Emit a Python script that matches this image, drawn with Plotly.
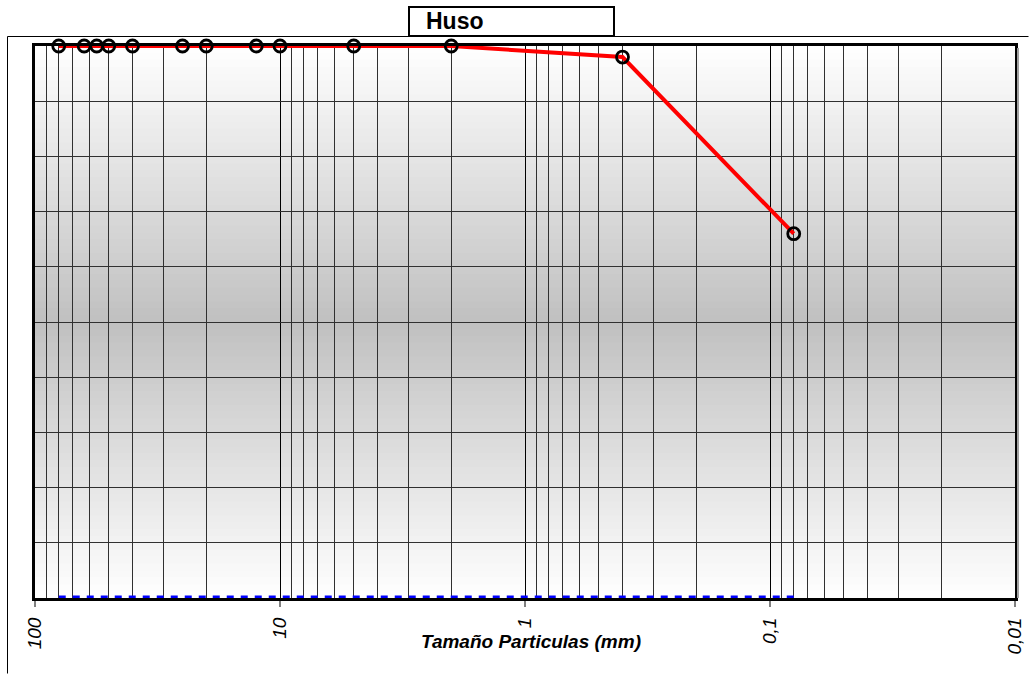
import plotly.graph_objects as go

# ---- data ----
sizes_mm = [80, 63, 56, 50, 40, 25, 20, 12.5, 10, 5, 2, 0.4, 0.08]
pct_passing = [100, 100, 100, 100, 100, 100, 100, 100, 100, 100, 100, 98, 66]
lower_band = [0, 0, 0, 0, 0, 0, 0, 0, 0, 0, 0, 0, 0]
tick_vals = [100, 10, 1, 0.1, 0.01]
tick_text = ["100", "10", "1", "0,1", "0,01"]
title_text = "Huso"
x_title = "Tamaño Particulas (mm)"

W, H = 1029, 674
L, R, T, B = 35, 14, 46, 76
pw, ph = W - L - R, H - T - B

def px_x(p):
    return (p - L) / pw

def px_y(p):
    return (H - B - p) / ph

minor_vals = []
for dec in [0.01, 0.1, 1, 10]:
    for k in range(2, 10):
        minor_vals.append(dec * k)

fig = go.Figure()

fig.add_trace(go.Scatter(
    x=sizes_mm, y=lower_band, mode="lines",
    line=dict(color="#0000ff", width=5, dash="7px,7px"),
    cliponaxis=False, showlegend=False, hoverinfo="skip"))

fig.add_trace(go.Scatter(
    x=sizes_mm, y=pct_passing, mode="lines+markers",
    line=dict(color="#ff0000", width=4),
    marker=dict(symbol="circle", size=12, color="rgba(0,0,0,0)",
                line=dict(color="#000000", width=2.8)),
    cliponaxis=False, showlegend=False))

shapes = []
# vertical gradient background
N = 80
for i in range(N):
    y0 = i / N
    y1 = (i + 1) / N
    t = abs((y0 + y1) / 2 - 0.5) * 2
    g = int(round(192 + (255 - 192) * t))
    shapes.append(dict(type="rect", xref="paper", yref="paper",
                       x0=0, x1=1, y0=y0, y1=y1 + 0.002,
                       fillcolor=f"rgb({g},{g},{g})", line=dict(width=0),
                       layer="below"))
# outer chart border (left and top edges visible within the image)
shapes.append(dict(type="line", xref="paper", yref="paper",
                   x0=px_x(7.5), x1=px_x(7.5), y0=px_y(673.5), y1=px_y(36.5),
                   line=dict(color="#000000", width=1), layer="below"))
shapes.append(dict(type="line", xref="paper", yref="paper",
                   x0=px_x(7.5), x1=px_x(1028.5), y0=px_y(36.5), y1=px_y(36.5),
                   line=dict(color="#000000", width=1), layer="below"))
# shadow on right of plot area
shapes.append(dict(type="line", xref="paper", yref="paper",
                   x0=px_x(1018), x1=px_x(1018), y0=0, y1=px_y(48),
                   line=dict(color="#a0a0a0", width=2)))
# title box
shapes.append(dict(type="rect", xref="paper", yref="paper",
                   x0=px_x(409), x1=px_x(614), y0=px_y(36), y1=px_y(7),
                   line=dict(color="#000000", width=2), fillcolor="#ffffff"))

fig.update_layout(
    width=W, height=H,
    margin=dict(l=L, r=R, t=T, b=B, autoexpand=False),
    paper_bgcolor="#ffffff", plot_bgcolor="#ffffff",
    shapes=shapes,
    font=dict(family="Arial, Liberation Sans, sans-serif", color="#000000"),
    annotations=[
        dict(text=f"<b>{title_text}</b>", xref="paper", yref="paper",
             x=px_x(424), y=px_y(21), xanchor="left", yanchor="middle",
             showarrow=False, font=dict(size=23, color="#000000")),
        dict(text=f"<b><i>{x_title}</i></b>", xref="paper", yref="paper",
             x=px_x(531), y=px_y(641), xanchor="center", yanchor="middle",
             showarrow=False, font=dict(size=19, color="#000000")),
    ],
)

fig.update_xaxes(
    type="log", range=[2, -2], autorange=False, automargin=False,
    tickmode="array", tickvals=tick_vals, ticktext=tick_text,
    tickangle=-90, tickfont=dict(size=19, style="italic"),
    ticks="outside", ticklen=6, tickcolor="#808080", tickwidth=2,
    ticklabelstandoff=3,
    showgrid=True, gridcolor="#000000", gridwidth=1,
    minor=dict(tickmode="array", tickvals=minor_vals, showgrid=True,
               gridcolor="#303030", gridwidth=1, ticks=""),
    showline=True, linecolor="#000000", linewidth=3, mirror=True,
    zeroline=False, layer="below traces",
)
fig.update_yaxes(
    range=[0, 100], autorange=False, automargin=False, dtick=10, tick0=0,
    showticklabels=False, ticks="",
    showgrid=True, gridcolor="#303030", gridwidth=1,
    showline=True, linecolor="#000000", linewidth=3, mirror=True,
    zeroline=False, layer="below traces",
)

fig.write_html("out.html", config={"displayModeBar": False},
               post_script="document.body.style.margin='0';")
